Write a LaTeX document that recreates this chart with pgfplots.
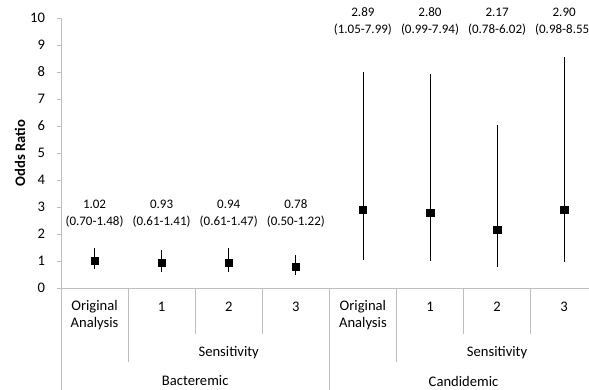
\documentclass[border=0pt]{standalone}
\usepackage{fontspec}
\setmainfont{Carlito}
\usepackage{pgfplots}
\usepackage{pgfplotstable}
\pgfplotsset{compat=1.18}
\usetikzlibrary{calc}
\pgfplotstableread{
x y ep em
0 1.02 0.46 0.32
1 0.93 0.48 0.32
2 0.94 0.53 0.33
3 0.78 0.44 0.28
4 2.89 5.10 1.84
5 2.80 5.14 1.81
6 2.17 3.85 1.39
7 2.90 5.65 1.92
}\ordata
\definecolor{axgray}{RGB}{190,190,190}
\newcommand\chfont{\fontsize{13bp}{17bp}\selectfont}
\newcommand\axfont{\fontsize{14.6bp}{17bp}\selectfont}
\tikzset{lbl/.style={align=center, inner sep=0pt, font=\chfont},
  cat/.style={align=center, inner sep=0pt, font=\axfont},
  sep/.style={axgray, line width=0.75bp}}
\begin{document}
\axfont
\begin{tikzpicture}
\begin{axis}[name=ax,
  scale only axis, width=528bp, height=270bp,
  xmin=-0.5, xmax=7.37, ymin=0, ymax=10,
  ytick={0,1,...,10}, xtick=\empty,
  axis lines*=left,
  axis line style={axgray, line width=0.75bp},
  tick align=outside, major tick length=4bp,
  ytick style={axgray, line width=0.75bp},
  /pgf/number format/assume math mode=true,
  yticklabel style={font=\axfont, xshift=-7bp},
  ylabel={\bfseries Odds Ratio},
  y label style={font=\axfont, at={(axis description cs:-0.0777,0.5)}, anchor=center},
  clip=false,
]
\addplot[only marks, mark=square*, mark size=3.7bp, black,
  error bars/.cd, y dir=both, y explicit, error mark=none,
  error bar style={black, line width=0.8bp}]
  table[x=x, y=y, y error plus=ep, y error minus=em] {\ordata};
% data labels
\node[lbl] at (axis cs:0,2.75) {1.02\\(0.70-1.48)};
\node[lbl] at (axis cs:1,2.75) {0.93\\(0.61-1.41)};
\node[lbl] at (axis cs:2,2.75) {0.94\\(0.61-1.47)};
\node[lbl] at (axis cs:3,2.75) {0.78\\(0.50-1.22)};
\node[lbl] at (axis cs:4,9.86) {2.89\\(1.05-7.99)};
\node[lbl] at (axis cs:5,9.86) {2.80\\(0.99-7.94)};
\node[lbl] at (axis cs:6,9.86) {2.17\\(0.78-6.02)};
\node[lbl] at (axis cs:7,9.86) {2.90\\(0.98-8.55)};
% category axis separators
\draw[sep] (axis cs:-0.5,0) -- ++(0pt,-102bp);
\draw[sep] (axis cs:3.5,0) -- ++(0pt,-102bp);
\draw[sep] (axis cs:0.5,0) -- ++(0pt,-74bp);
\draw[sep] (axis cs:4.5,0) -- ++(0pt,-74bp);
\draw[sep] (axis cs:1.5,0) -- ++(0pt,-46bp);
\draw[sep] (axis cs:2.5,0) -- ++(0pt,-46bp);
\draw[sep] (axis cs:5.5,0) -- ++(0pt,-46bp);
\draw[sep] (axis cs:6.5,0) -- ++(0pt,-46bp);
% category labels
\node[cat] at ($(axis cs:0,0)+(0pt,-27.5bp)$) {Original\\Analysis};
\node[cat] at ($(axis cs:4,0)+(0pt,-27.5bp)$) {Original\\Analysis};
\node[cat] at ($(axis cs:1,0)+(0pt,-19bp)$) {1};
\node[cat] at ($(axis cs:2,0)+(0pt,-19bp)$) {2};
\node[cat] at ($(axis cs:3,0)+(0pt,-19bp)$) {3};
\node[cat] at ($(axis cs:5,0)+(0pt,-19bp)$) {1};
\node[cat] at ($(axis cs:6,0)+(0pt,-19bp)$) {2};
\node[cat] at ($(axis cs:7,0)+(0pt,-19bp)$) {3};
\node[cat] at ($(axis cs:2,0)+(0pt,-65bp)$) {Sensitivity};
\node[cat] at ($(axis cs:6,0)+(0pt,-65bp)$) {Sensitivity};
\node[cat] at ($(axis cs:1.5,0)+(0pt,-93bp)$) {Bacteremic};
\node[cat] at ($(axis cs:5.5,0)+(0pt,-93bp)$) {Candidemic};
\end{axis}
\pgfresetboundingbox
\path ($(ax.south west)+(-61bp,-102bp)$) rectangle ($(ax.north east)+(0pt,18bp)$);
\end{tikzpicture}
\end{document}
